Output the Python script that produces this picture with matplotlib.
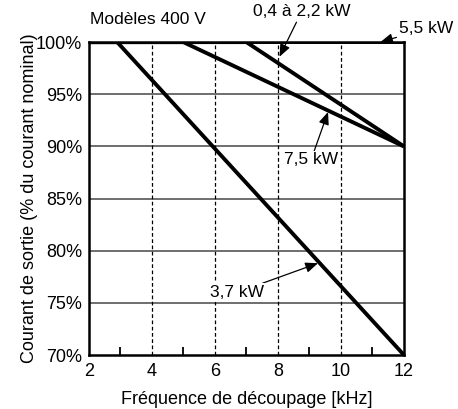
import matplotlib.pyplot as plt

plt.rcParams['font.family'] = ['Liberation Sans', 'DejaVu Sans']

# derating curves: (frequency kHz, output current %)
freq_04_22 = [2, 7, 12]
curr_04_22 = [100, 100, 90]
freq_37 = [2, 2.9, 12]
curr_37 = [100, 100, 70]
freq_55 = [2, 12]
curr_55 = [100, 100]
freq_75 = [2, 5, 12]
curr_75 = [100, 100, 90]

x_ticks = [2, 4, 6, 8, 10, 12]
x_minor = [3, 5, 7, 9, 11]
y_ticks = [70, 75, 80, 85, 90, 95, 100]
y_labels = ["70%", "75%", "80%", "85%", "90%", "95%", "100%"]

fs = 13

fig = plt.figure(figsize=(4.58, 4.09), dpi=100)
ax = fig.add_axes([0.194, 0.132, 0.688, 0.765])

for y in y_ticks[1:-1]:
    ax.axhline(y, color="#555555", lw=1.2, zorder=1)
for x in x_ticks[1:-1]:
    ax.axvline(x, color="black", lw=0.9, ls=(0, (3, 2)), zorder=1)

kw = dict(color="black", lw=2.8, solid_capstyle="butt", zorder=3)
ax.plot(freq_37, curr_37, **kw)
ax.plot(freq_75, curr_75, **kw)
ax.plot(freq_04_22, curr_04_22, **kw)
ax.plot(freq_55, curr_55, **kw)

ax.set_xlim(2, 12)
ax.set_ylim(70, 100)
ax.set_xticks(x_ticks)
ax.set_xticks(x_minor, minor=True)
ax.set_yticks(y_ticks)
ax.set_yticklabels(y_labels)
ax.tick_params(axis="x", which="major", length=0, labelsize=fs, pad=6)
ax.tick_params(axis="x", which="minor", direction="in", length=6, width=1.3)
ax.tick_params(axis="y", length=0, labelsize=fs, pad=5)
for s in ax.spines.values():
    s.set_linewidth(1.8)
    s.set_zorder(4)

ax.set_xlabel("Fréquence de découpage [kHz]", fontsize=fs, labelpad=8)
ax.set_ylabel("Courant de sortie (% du courant nominal)", fontsize=fs, labelpad=-2)

ax.text(2.03, 102.2, "Modèles 400 V", fontsize=fs - 0.5, ha="left", va="center", clip_on=False)

arrow = dict(arrowstyle="-|>,head_length=0.6,head_width=0.25", color="black", lw=0.9)
ax.annotate("0,4 à 2,2 kW", xy=(8.05, 98.6), xytext=(8.75, 102.9), fontsize=fs - 0.5,
            ha="center", va="center", arrowprops=dict(arrow, shrinkA=0, shrinkB=0),
            annotation_clip=False)
ax.annotate("5,5 kW", xy=(11.25, 100), xytext=(11.85, 101.3), fontsize=fs - 0.5,
            ha="left", va="center", arrowprops=dict(arrow, shrinkA=0, shrinkB=0),
            annotation_clip=False)
ax.annotate("7,5 kW", xy=(9.59, 93.3), xytext=(9.05, 88.7), fontsize=fs - 0.5,
            ha="center", va="center", arrowprops=dict(arrow, shrinkA=0, shrinkB=0),
            bbox=dict(boxstyle="square,pad=0.1", fc="white", ec="none"))
ax.annotate("3,7 kW", xy=(9.27, 78.8), xytext=(6.7, 76.0), fontsize=fs - 0.5,
            ha="center", va="center", arrowprops=dict(arrow, shrinkA=0, shrinkB=0),
            bbox=dict(boxstyle="square,pad=0.1", fc="white", ec="none"))

fig.savefig("out.png", dpi=100)
